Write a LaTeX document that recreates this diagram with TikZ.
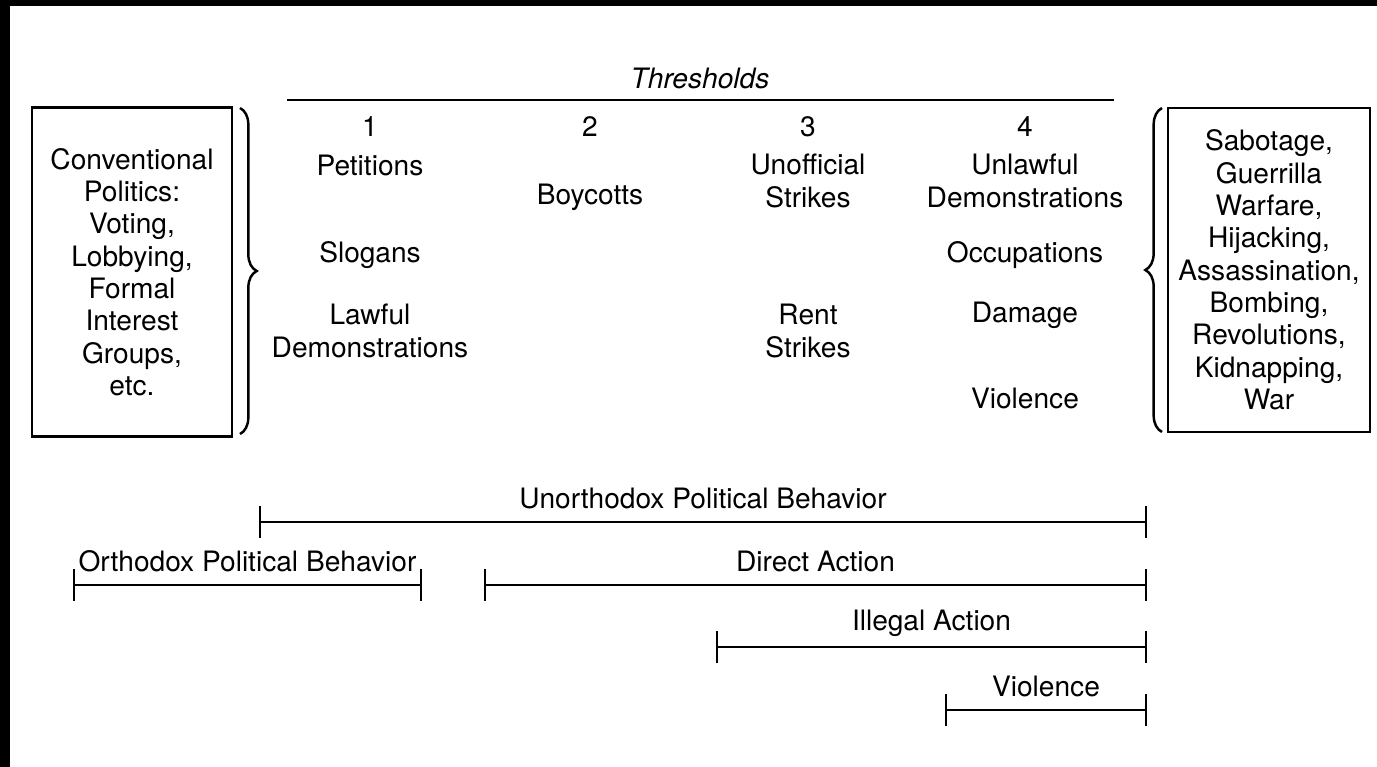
\documentclass[tikz,border=0pt]{standalone}
\usepackage{fontspec}
\setmainfont{TeX Gyre Heros}
\usetikzlibrary{arrows.meta,decorations.pathreplacing}

\begin{document}
\begin{tikzpicture}[x=0.02cm, y=-0.02cm,
    every node/.style={font=\fontsize{16}{18.4}\selectfont, align=center},
    listbox/.style={draw, line width=1.4pt, inner sep=0pt},
    span/.style={line width=1.4pt, {Bar[width=18pt]}-{Bar[width=18pt]}},
    curly/.style={decorate, decoration={brace, amplitude=9.5pt}, line width=1.4pt}]

    % Frame and page
    \fill[black] (0,0) rectangle (1377,767);
    \fill[white] (10,6) rectangle (1377,767);
    \useasboundingbox (0,0) rectangle (1377,767);

    % Heading with its rule
    \node (thresholds) at (700,78) {\itshape Thresholds};
    \coordinate (rule-l) at (287,100);
    \coordinate (rule-r) at (1114,100);
    \draw[line width=1.4pt] (rule-l) -- (rule-r);

    % Threshold numbers
    \foreach \i/\x in {1/370, 2/590, 3/808, 4/1025}
        \node (num\i) at (\x,127) {\i};

    % Forms of action under each threshold
    \node (petitions) at (370,165) {Petitions};
    \node (slogans)   at (370,255) {Slogans};
    \node (lawful)    at (370,331) {Lawful\\Demonstrations};
    \node (boycotts)  at (590,197) {Boycotts};
    \node (unofficial) at (808,181) {Unofficial\\Strikes};
    \node (rent)      at (808,331) {Rent\\Strikes};
    \node (unlawful)  at (1025,181) {Unlawful\\Demonstrations};
    \node (occupations) at (1025,255) {Occupations};
    \node (damage)    at (1025,315) {Damage};
    \node (violence)  at (1025,398) {Violence};

    % Side boxes
    \node[listbox, minimum width=4cm, minimum height=6.58cm] (conventional) at (132,272)
        {Conventional\\Politics:\\Voting,\\Lobbying,\\Formal\\Interest\\Groups,\\etc.};
    \node[listbox, minimum width=4.04cm, minimum height=6.48cm] (extreme) at (1269,270)
        {Sabotage,\\Guerrilla\\Warfare,\\Hijacking,\\Assassination,\\Bombing,\\Revolutions,\\Kidnapping,\\War};

    % Braces next to the boxes
    \coordinate (lb-top) at (240,108);
    \coordinate (lb-bot) at (240,434);
    \draw[curly] (lb-top) -- (lb-bot);
    \coordinate (rb-top) at (1162,108);
    \coordinate (rb-bot) at (1162,432);
    \draw[curly] (rb-bot) -- (rb-top);

    % Ranges of behaviour
    \foreach \name/\xa/\xb/\y/\txt in {unorth/259/1147/522/Unorthodox Political Behavior,
                                      orth/73/422/585/Orthodox Political Behavior,
                                      direct/484/1147/585/Direct Action,
                                      illegal/716/1147/647/Illegal Action,
                                      violent/945/1147/710/Violence}
    {
        \coordinate (\name-l) at (\xa,\y);
        \coordinate (\name-r) at (\xb,\y);
        \draw[span] (\name-l) -- (\name-r) node[midway, yshift=13.6pt] (\name-label) {\txt};
    }
\end{tikzpicture}
\end{document}
